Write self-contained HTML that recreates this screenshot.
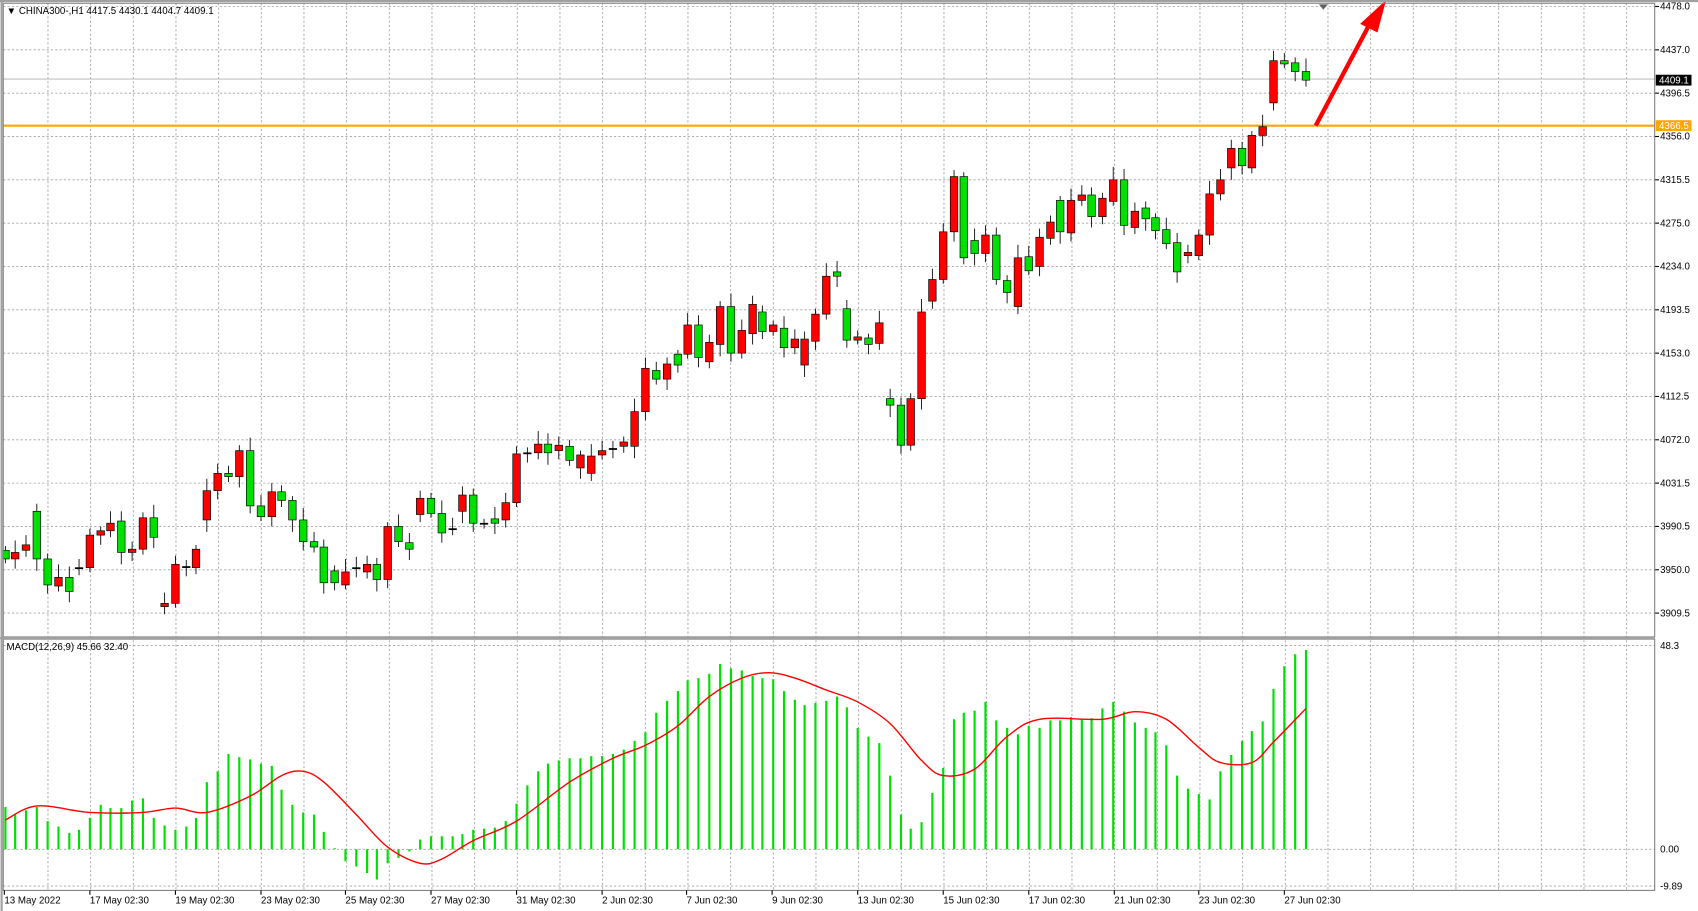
<!DOCTYPE html>
<html><head><meta charset="utf-8"><style>
html,body{margin:0;padding:0;background:#fff;overflow:hidden}
svg{display:block}
text{font-family:"Liberation Sans",sans-serif;font-size:9px;fill:#000}
</style></head><body>
<svg id="s" width="1698" height="911" viewBox="0 0 1568 841" preserveAspectRatio="none" xmlns="http://www.w3.org/2000/svg"></svg>
<script>
const s=document.getElementById('s');let h='';
h+='<rect x="0" y="0" width="1568" height="841" fill="#fff"/>';
for(let x=44.3;x<1528;x+=39.4){h+=`<line x1="${x}" y1="3" x2="${x}" y2="822" stroke="#a0a0a0" stroke-width="0.8" stroke-dasharray="2,2"/>`;}
const pl=[[6,'4478.0'],[46,'4437.0'],[86,'4396.5'],[126,'4356.0'],[166,'4315.5'],[206,'4275.0'],[246,'4234.0'],[286,'4193.5'],[326,'4153.0'],[366,'4112.5'],[406,'4072.0'],[446,'4031.5'],[486,'3990.5'],[526,'3950.0'],[566,'3909.5']];
pl.forEach(p=>{h+=`<line x1="3" y1="${p[0]}" x2="1528" y2="${p[0]}" stroke="#a0a0a0" stroke-width="0.8" stroke-dasharray="2,2"/><line x1="1528" y1="${p[0]}" x2="1532" y2="${p[0]}" stroke="#000"/><text x="1533" y="${p[0]+3}">${p[1]}</text>`;});
[[596,'48.3'],[784,'0.00'],[818,'-9.89']].forEach(p=>{h+=`<line x1="3" y1="${p[0]}" x2="1528" y2="${p[0]}" stroke="#a0a0a0" stroke-width="0.8" stroke-dasharray="2,2"/><text x="1533" y="${p[0]+3}">${p[1]}</text>`;});
h+='<line x1="3" y1="73" x2="1528" y2="73" stroke="#c0c0c0" stroke-width="1"/>';
h+='<line x1="3" y1="116" x2="1528" y2="116" stroke="#ffa500" stroke-width="2"/>';
const c=[[5,'G',508,516],[14,'R',510,516],[24,'R',503,508],[34,'G',472,516],[44,'G',516,540],[54,'R',533,541],[64,'G',533,546],[73,'-',524,524],[83,'R',494,524],[93,'R',490,494],[102,'R',483,490],[112,'G',481,510],[122,'R',507,510],[132,'R',478,507],[142,'G',478,496],[152,'R',557,560],[162,'R',521,557],[172,'-',523,523],[181,'R',507,524],[191,'R',453,480],[201,'R',437,453],[211,'G',437,440],[221,'R',416,440],[231,'G',416,467],[241,'G',467,477],[251,'R',454,477],[260,'G',454,462],[270,'G',462,480],[280,'G',480,500],[290,'G',500,505],[299,'G',505,538],[309,'G',527,538],[319,'R',528,540],[329,'-',524,524],[339,'R',521,528],[348,'G',521,535],[358,'R',486,535],[368,'G',486,500],[378,'G',501,507],[388,'R',460,475],[398,'G',460,474],[408,'G',474,492],[418,'-',488,488],[427,'R',457,472],[437,'G',457,483],[447,'-',483,483],[457,'G',479,483],[467,'R',464,480],[477,'R',419,464],[487,'-',418,418],[497,'R',410,418],[506,'G',410,418],[516,'R',411,416],[526,'G',412,425],[536,'R',420,432],[546,'R',421,437],[556,'R',416,420],[566,'-',414,414],[576,'R',408,412],[586,'R',380,412],[596,'R',340,380],[606,'G',342,350],[616,'R',336,350],[626,'G',327,337],[635,'R',300,327],[645,'G',300,330],[655,'R',316,334],[665,'R',283,318],[675,'G',283,326],[685,'R',305,326],[695,'R',281,308],[704,'G',288,306],[714,'R',300,306],[724,'G',303,321],[734,'R',313,321],[743,'R',313,337],[753,'R',290,315],[763,'R',255,290],[773,'G',251,255],[782,'G',285,314],[792,'R',311,314],[802,'G',312,318],[812,'R',298,317],[822,'G',368,374],[832,'G',374,411],[841,'R',368,411],[851,'R',288,368],[861,'R',258,278],[871,'R',214,258],[881,'R',163,214],[890,'G',163,238],[900,'G',222,234],[910,'R',217,234],[920,'G',217,258],[930,'G',259,270],[940,'R',238,283],[950,'G',237,250],[960,'R',219,246],[970,'R',205,220],[979,'G',185,214],[989,'R',185,215],[999,'R',180,185],[1008,'G',180,200],[1018,'R',183,200],[1028,'R',166,186],[1038,'G',166,208],[1048,'R',195,210],[1058,'G',192,202],[1067,'G',201,213],[1077,'G',212,225],[1087,'G',224,251],[1097,'R',233,236],[1107,'R',217,236],[1117,'R',179,217],[1127,'R',166,179],[1137,'R',137,155],[1147,'G',137,153],[1156,'R',125,155],[1166,'R',117,125],[1176,'R',56,95],[1186,'G',56,59],[1196,'G',58,66],[1206,'G',66,74]];
c.forEach((k,i)=>{const [x,t,a,b]=k;const up=4+((i*7)%9),dn=4+((i*5)%8);
h+=`<line x1="${x}" y1="${a-up}" x2="${x}" y2="${b+dn}" stroke="#000" stroke-width="0.8"/>`;
const f=t==='R'?'#ff0000':t==='G'?'#00e000':'#000';
h+=`<rect x="${x-3.5}" y="${a}" width="7" height="${Math.max(b-a,1)}" fill="${f}" stroke="#000" stroke-width="0.6"/>`;});
h+='<line x1="1215" y1="116" x2="1266" y2="20" stroke="#ff0000" stroke-width="4"/><polygon points="1280,0 1256,22 1272,30" fill="#ff0000"/>';
h+='<polygon points="1218,4 1226,4 1222,9" fill="#606060"/>';
const m=[745,752,748,745,758,763,769,766,755,743,746,746,739,737,755,762,766,763,755,722,712,696,699,701,705,707,729,743,750,752,768,783,795,800,806,812,797,792,786,775,772,772,772,770,766,765,764,758,742,725,712,705,702,700,700,698,698,696,692,684,676,658,647,638,628,626,622,613,617,619,624,626,627,638,646,651,649,647,643,653,672,680,686,716,752,765,759,732,709,664,658,656,648,665,672,678,670,672,665,665,662,664,663,654,648,657,667,672,676,688,716,728,733,738,712,697,684,675,666,636,615,604,600];
c.forEach((k,i)=>{const y=m[i];h+=`<line x1="${k[0]}" y1="784" x2="${k[0]}" y2="${y}" stroke="#00e000" stroke-width="2"/>`;});
const sp=[[5,757],[34,744],[83,750],[132,750],[162,746],[191,750],[231,735],[260,716],[280,712],[299,722],[329,752],[358,782],[388,797],[408,793],[437,776],[477,758],[526,722],[566,700],[596,688],[626,670],[655,643],[685,626],[710,621],[734,626],[763,637],[792,648],[822,668],[851,702],[871,716],[900,710],[930,680],[960,664],[1018,664],[1048,657],[1077,664],[1107,690],[1127,704],[1156,704],[1176,685],[1206,654]];
let d='M'+sp[0].join(',');
for(let i=0;i<sp.length-1;i++){const p0=sp[Math.max(i-1,0)],p1=sp[i],p2=sp[i+1],p3=sp[Math.min(i+2,sp.length-1)];
const c1=[p1[0]+(p2[0]-p0[0])/6,p1[1]+(p2[1]-p0[1])/6],c2=[p2[0]-(p3[0]-p1[0])/6,p2[1]-(p3[1]-p1[1])/6];
d+=` C${c1[0]},${c1[1]} ${c2[0]},${c2[1]} ${p2[0]},${p2[1]}`;}
h+=`<path d="${d}" fill="none" stroke="#ff0000" stroke-width="1.3"/>`;
h+='<rect x="3" y="3" width="1525" height="585" fill="none" stroke="#808080" stroke-width="1"/>';
h+='<rect x="3" y="590" width="1525" height="232" fill="none" stroke="#808080" stroke-width="1"/>';
h+='<line x1="0" y1="589" x2="1528" y2="589" stroke="#a0a0a0" stroke-width="2"/>';
h+='<line x1="1.5" y1="0" x2="1.5" y2="841" stroke="#a0a0a0" stroke-width="2"/>';
h+='<line x1="0" y1="1" x2="1568" y2="1" stroke="#a0a0a0" stroke-width="2"/>';
h+='<rect x="1529" y="69" width="33" height="10" fill="#000"/><text x="1532" y="77" style="fill:#fff">4409.1</text>';
h+='<rect x="1529" y="111" width="33" height="10" fill="#ffa500"/><text x="1532" y="119" style="fill:#fff">4366.5</text>';
h+='<text x="6" y="13">▼ CHINA300-,H1  4417.5 4430.1 4404.7 4409.1</text>';
h+='<text x="6" y="600">MACD(12,26,9) 45.66 32.40</text>';
const dl=[[4,'13 May 2022'],[83,'17 May 02:30'],[162,'19 May 02:30'],[241,'23 May 02:30'],[319,'25 May 02:30'],[398,'27 May 02:30'],[477,'31 May 02:30'],[556,'2 Jun 02:30'],[634,'7 Jun 02:30'],[713,'9 Jun 02:30'],[792,'13 Jun 02:30'],[871,'15 Jun 02:30'],[950,'17 Jun 02:30'],[1029,'21 Jun 02:30'],[1107,'23 Jun 02:30'],[1186,'27 Jun 02:30']];
dl.forEach(p=>{h+=`<line x1="${p[0]}" y1="822" x2="${p[0]}" y2="826" stroke="#000"/><text x="${p[0]}" y="834">${p[1]}</text>`;});
s.innerHTML=h;
</script>
</body></html>
